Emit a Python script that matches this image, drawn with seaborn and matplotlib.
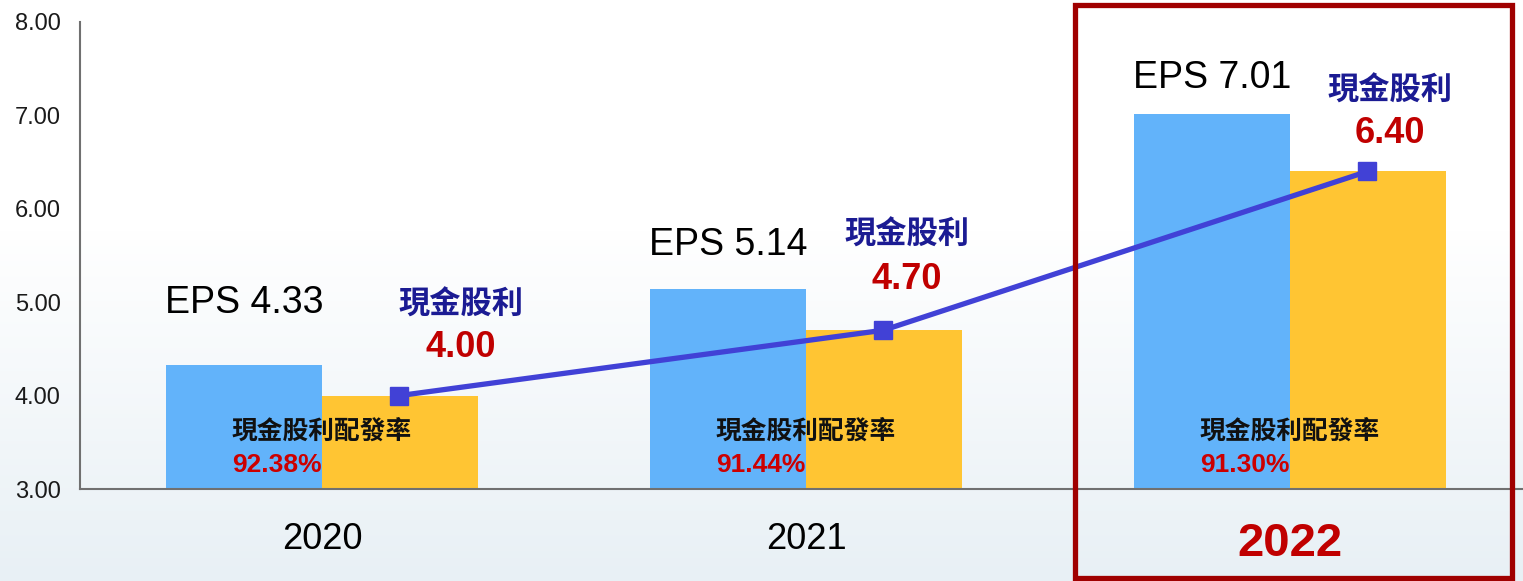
import numpy as np
import pandas as pd
import matplotlib
matplotlib.use('Agg')
import matplotlib.pyplot as plt
import matplotlib.patches as patches
import seaborn as sns

# chart values
years = ['2020', '2021', '2022']
eps = [4.33, 5.14, 7.01]
dividend = [4.00, 4.70, 6.40]
payout = ['92.38%', '91.44%', '91.30%']

# label layout (offsets in data units, not data)
eps_dy = [0.66, 0.47, 0.39]
div_dx = [0.287, 0.209, 0.207]
div_num_dy = [0.51, 0.54, 0.41]
div_txt_dy = [0.45, 0.47, 0.44]

sns.set_style('white')
plt.rcParams['font.family'] = ['Liberation Sans', 'Noto Sans CJK TC', 'DejaVu Sans']
plt.rcParams['text.color'] = 'black'

df = pd.DataFrame({
    'year': years * 2,
    'series': ['EPS'] * 3 + ['現金股利'] * 3,
    'value': eps + dividend,
})

fig = plt.figure(figsize=(15.23, 5.81), dpi=100)

# background gradient: white on top, pale blue at the bottom
bg = fig.add_axes([0, 0, 1, 1], zorder=-10)
h = 581
rows = np.arange(h)
t = np.clip((rows - 230) / (h - 230), 0, 1)
top = np.array([1.0, 1.0, 1.0])
bot = np.array([0xE8, 0xF0, 0xF5]) / 255
grad = top[None, :] * (1 - t[:, None]) + bot[None, :] * t[:, None]
bg.imshow(grad[:, None, :], aspect='auto', extent=[0, 1, 0, 1])
bg.axis('off')

ax = fig.add_axes([80 / 1523, 92 / 581, 1452 / 1523, 467 / 581])
ax.set_facecolor('none')

sns.barplot(data=df, x='year', y='value', hue='series',
            palette=['#62B3FA', '#FFC533'], width=0.645, gap=0,
            saturation=1, linewidth=0, legend=False, ax=ax, zorder=2)

x = np.arange(len(years))
ax.plot(x + 0.16, dividend, color='#4141D6', lw=3.8, marker='s',
        markersize=13, zorder=4)

ax.set_xlim(-0.5, 2.5)
ax.set_ylim(3, 8)
ax.set_xlabel('')
ax.set_ylabel('')

# axes styling
for s in ['top', 'right']:
    ax.spines[s].set_visible(False)
for s in ['left', 'bottom']:
    ax.spines[s].set_color('#707070')
    ax.spines[s].set_linewidth(1.5)
ax.spines['bottom'].set_zorder(5)

ax.set_yticks(np.arange(3, 9, 1))
ax.set_yticklabels([f'{v:.2f}' for v in np.arange(3, 9, 1)])
ax.tick_params(axis='y', direction='in', length=6, color='#707070',
               labelsize=17, pad=14, labelcolor='#1a1a1a')
ax.tick_params(axis='x', length=0, labelsize=26, pad=24, labelcolor='black')
ax.set_xticks([0.5, 1.5], minor=True)
ax.tick_params(axis='x', which='minor', direction='in', length=9,
               width=1.2, color='#333333')
ax.set_xticks(x)
ax.set_xticklabels(years)
last = ax.get_xticklabels()[-1]
last.set_fontsize(34)
last.set_fontweight('bold')
last.set_color('#C00000')

# value labels
for i in range(len(years)):
    ax.text(i - 0.161, eps[i] + eps_dy[i], f'EPS {eps[i]:.2f}',
            ha='center', va='center', fontsize=27, color='black', zorder=6)
    ax.text(i + div_dx[i], dividend[i] + div_num_dy[i] + div_txt_dy[i], '現金股利',
            ha='center', va='center', fontsize=22.5, fontweight='bold',
            color='#1B1B93', zorder=6)
    ax.text(i + div_dx[i], dividend[i] + div_num_dy[i], f'{dividend[i]:.2f}',
            ha='center', va='center', fontsize=26, fontweight='bold',
            color='#C00000', zorder=6)
    ax.text(i - 0.186, 3.61, '現金股利配發率', ha='left', va='center',
            fontsize=18.5, fontweight='bold', color='#111111', zorder=6)
    ax.text(i - 0.186, 3.26, payout[i], ha='left', va='center',
            fontsize=19, fontweight='bold', color='#CC0000', zorder=6)

# highlight box around 2022
box = patches.Rectangle((1075 / 1523, 3 / 581), 437 / 1523, 573 / 581,
                        transform=fig.transFigure, fill=False,
                        edgecolor='#A00000', linewidth=3.8, zorder=20)
fig.patches.append(box)

fig.savefig('out.png', dpi=100)
